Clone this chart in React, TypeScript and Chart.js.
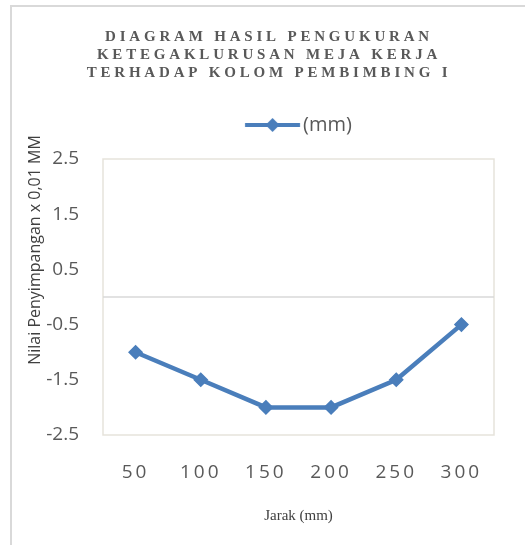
import React, { useEffect, useRef } from "react";
import { Chart, registerables } from "chart.js";

Chart.register(...registerables);

// ---- data ----
const categories = ["50", "100", "150", "200", "250", "300"];
const seriesValues = [-1, -1.5, -2, -2, -1.5, -0.5];
const seriesName = "(mm)";
const titleLines = [
  "DIAGRAM HASIL PENGUKURAN",
  "KETEGAKLURUSAN MEJA KERJA",
  "TERHADAP KOLOM PEMBIMBING I",
];
const yAxisTitle = "Nilai Penyimpangan x 0,01 MM";
const xAxisTitle = "Jarak (mm)";
const yMin = -2.5;
const yMax = 2.5;
const yStep = 1;

// ---- style ----
const BLUE = "#4a7ebb";
const TEXT = "#595959";
const SANS = '"Open Sans", "Liberation Sans", sans-serif';
const SERIF = '"Liberation Serif", "Times New Roman", serif';
const LEGEND_SIZE = 20;
const CW = 514;
const CH = 540;
const PLOT_TOP = 152;

function makeLegendMarker(): { img: HTMLCanvasElement; w: number } {
  const m = document.createElement("canvas").getContext("2d")!;
  m.font = `${LEGEND_SIZE}px ${SANS}`;
  const T = m.measureText(seriesName).width;
  const W = Math.max(10, T - 1);
  const x0 = 286.5 - (W + LEGEND_SIZE / 2 + T) / 2;
  const imgCenter = x0 + W / 2;
  const lineL = x0 + W + LEGEND_SIZE / 2 - 58;
  const lineR = x0 + W + LEGEND_SIZE / 2 - 3;
  const half = Math.ceil(Math.max(imgCenter - lineL, lineR - imgCenter)) + 2;
  const c = document.createElement("canvas");
  c.width = half * 2;
  c.height = 18;
  const ctx = c.getContext("2d")!;
  const off = half - imgCenter;
  ctx.strokeStyle = BLUE;
  ctx.lineWidth = 4;
  ctx.beginPath();
  ctx.moveTo(lineL + off, 9);
  ctx.lineTo(lineR + off, 9);
  ctx.stroke();
  const cx = (lineL + lineR) / 2 + off;
  ctx.fillStyle = BLUE;
  ctx.beginPath();
  ctx.moveTo(cx, 2);
  ctx.lineTo(cx + 7, 9);
  ctx.lineTo(cx, 16);
  ctx.lineTo(cx - 7, 9);
  ctx.closePath();
  ctx.fill();
  return { img: c, w: W };
}

const patchPlugin = {
  id: "layoutPatch",
  beforeLayout(chart: any) {
    const lg = chart.legend;
    if (lg && !lg.__fit) {
      const of = lg.fit.bind(lg);
      lg.fit = () => {
        of();
        const tb = chart.titleBlock;
        const titleH = tb ? tb.height : 0;
        const want = PLOT_TOP - titleH;
        if (want > lg.height) lg.height = want;
      };
      lg.__fit = true;
    }
  },
  beforeDraw(chart: any) {
    const tb = chart.titleBlock;
    if (tb && !tb.__ls) {
      const od = tb.draw.bind(tb);
      tb.draw = (a: any) => {
        const c = chart.ctx;
        const p = c.letterSpacing;
        c.letterSpacing = "3.8px";
        od(a);
        c.letterSpacing = p;
      };
      tb.__ls = true;
    }
    const xs = chart.scales.x;
    if (xs && !xs.__ls) {
      const od = xs.drawLabels.bind(xs);
      xs.drawLabels = (a: any) => {
        const c = chart.ctx;
        const p = c.letterSpacing;
        c.letterSpacing = "3px";
        od(a);
        c.letterSpacing = p;
      };
      xs.__ls = true;
    }
  },
};

const framePlugin = {
  id: "plotFrame",
  beforeDatasetsDraw(chart: any) {
    const { ctx, chartArea } = chart;
    const y0 = chart.scales.y.getPixelForValue(0);
    ctx.save();
    ctx.strokeStyle = "#e6e3db";
    ctx.lineWidth = 1.5;
    ctx.strokeRect(chartArea.left, chartArea.top, chartArea.right - chartArea.left, chartArea.bottom - chartArea.top);
    ctx.strokeStyle = "#d9d9d9";
    ctx.lineWidth = 1.5;
    ctx.beginPath();
    ctx.moveTo(chartArea.left, y0);
    ctx.lineTo(chartArea.right, y0);
    ctx.stroke();
    ctx.restore();
  },
  afterDraw(chart: any) {
    const ctx = chart.ctx;
    ctx.save();
    ctx.translate(23, 243);
    ctx.rotate(-Math.PI / 2);
    ctx.font = `16px ${SANS}`;
    ctx.fillStyle = "#404040";
    ctx.textAlign = "center";
    ctx.textBaseline = "middle";
    ctx.fillText(yAxisTitle, 0, 0);
    ctx.restore();
  },
};

export default function App() {
  const ref = useRef<HTMLCanvasElement>(null);
  useEffect(() => {
    if (!ref.current) return;
    const marker = makeLegendMarker();
    const chart = new Chart(ref.current, {
      type: "line",
      data: {
        labels: categories,
        datasets: [
          {
            label: seriesName,
            data: seriesValues,
            borderColor: BLUE,
            backgroundColor: BLUE,
            borderWidth: 4.5,
            pointStyle: "rectRot",
            pointRadius: 6.5,
            pointBorderWidth: 1.5,
            pointBackgroundColor: BLUE,
            pointBorderColor: BLUE,
            tension: 0,
            yAxisID: "y",
          },
        ],
      },
      options: {
        responsive: false,
        animation: false,
        devicePixelRatio: 1,
        layout: { padding: 0 },
        plugins: {
          tooltip: { enabled: false },
          title: {
            display: true,
            text: titleLines,
            color: TEXT,
            font: { family: SERIF, size: 15, weight: "bold", lineHeight: 1.2 },
            padding: { top: 21, bottom: 19 },
          },
          legend: {
            display: true,
            position: "top",
            fullSize: false,
            labels: {
              usePointStyle: true,
              pointStyleWidth: marker.w,
              padding: 14,
              color: TEXT,
              font: { family: SANS, size: LEGEND_SIZE },
              generateLabels: () => [
                {
                  text: seriesName,
                  pointStyle: marker.img as any,
                  fillStyle: BLUE,
                  strokeStyle: BLUE,
                  lineWidth: 0,
                  hidden: false,
                  datasetIndex: 0,
                  fontColor: TEXT,
                } as any,
              ],
            },
          },
        },
        scales: {
          x: {
            type: "category",
            offset: true,
            grid: { display: false, drawTicks: false },
            border: { display: false },
            ticks: {
              color: TEXT,
              font: { family: SANS, size: 19, lineHeight: 1.2 },
              padding: 26,
              maxRotation: 0,
              autoSkip: false,
            },
            title: {
              display: true,
              text: xAxisTitle,
              color: "#404040",
              font: { family: SERIF, size: 15, lineHeight: 1.2 },
              padding: { top: 0, bottom: 22 },
            },
            afterFit: (s: any) => {
              s.height = 112;
            },
          },
          y: {
            type: "linear",
            position: "left",
            min: yMin,
            max: yMax,
            grid: { display: false, drawTicks: false },
            border: { display: false },
            ticks: {
              stepSize: yStep,
              color: TEXT,
              font: { family: SANS, size: 19 },
              padding: 24,
              callback: (v: any) => Number(v).toFixed(1),
            },
            afterFit: (s: any) => {
              s.width = 91;
            },
          },
          yRight: {
            type: "linear",
            position: "right",
            display: true,
            grid: { display: false, drawTicks: false },
            border: { display: false },
            ticks: { display: false },
            afterFit: (s: any) => {
              s.width = 32;
            },
          },
        },
      },
      plugins: [patchPlugin, framePlugin],
    });
    return () => chart.destroy();
  }, []);

  return (
    <div style={{ position: "fixed", left: 0, top: 0, width: 525, height: 545, overflow: "hidden", background: "#fff" }}>
      <div
        style={{
          position: "absolute",
          left: 10,
          top: 5,
          borderLeft: "2px solid #d9d9d9",
          borderTop: "2px solid #d9d9d9",
          width: CW,
          height: CH,
        }}
      >
        <canvas ref={ref} width={CW} height={CH} style={{ display: "block", width: CW, height: CH }} />
      </div>
    </div>
  );
}
